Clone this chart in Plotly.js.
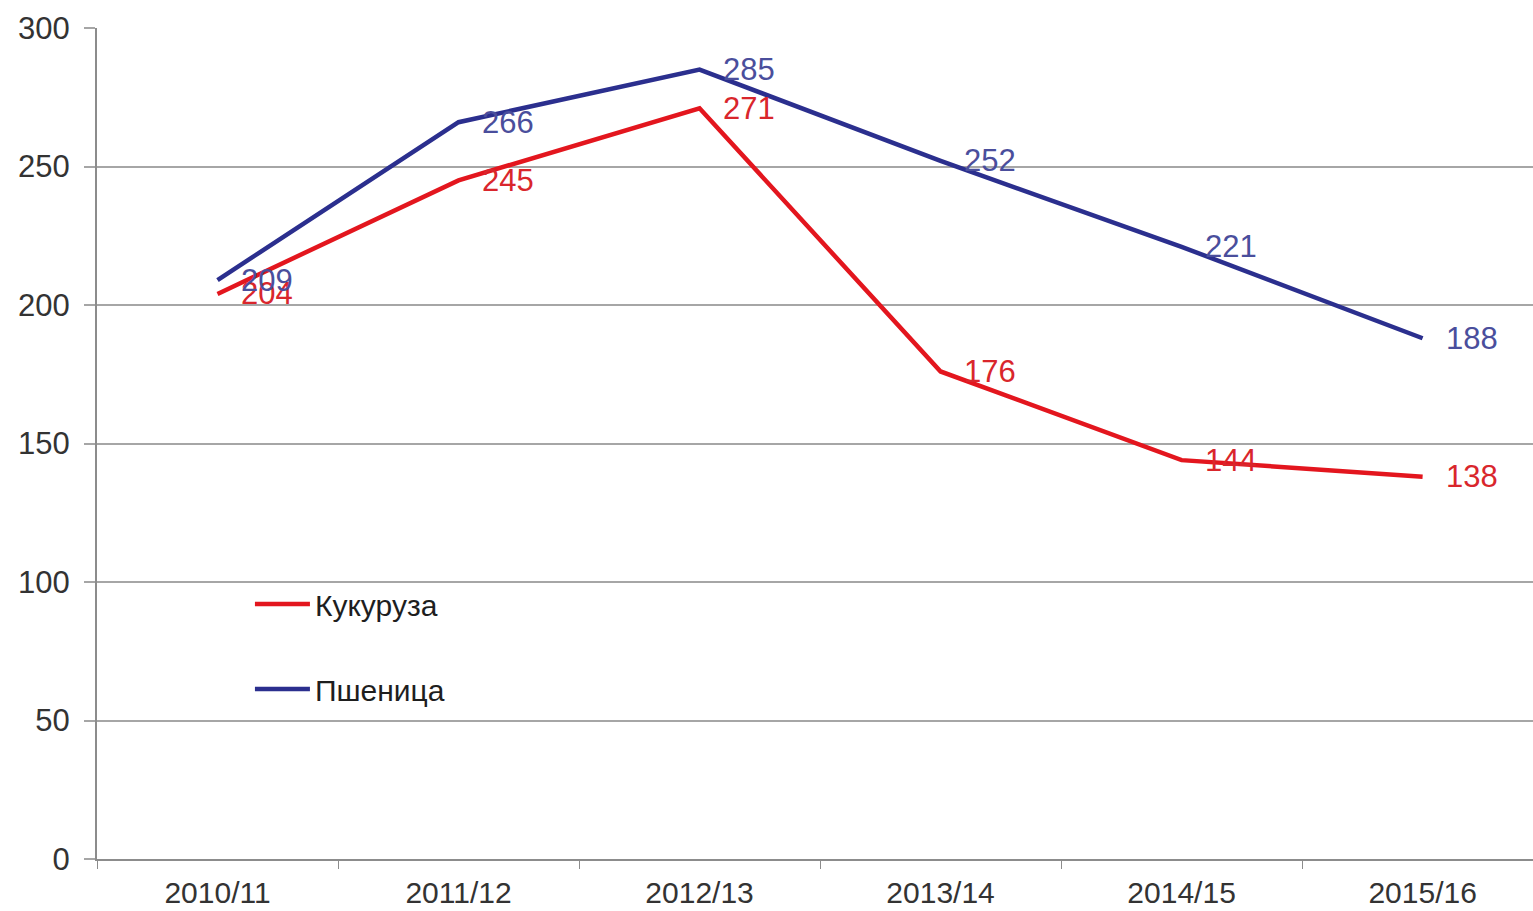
<!DOCTYPE html>
<html>
<head>
<meta charset="utf-8">
<script src="https://cdn.plot.ly/plotly-3.0.1.min.js"></script>
<style>
html,body{margin:0;padding:0;background:#fff;overflow:hidden;}
#chart{width:1533px;height:911px;}
</style>
</head>
<body>
<div id="chart"></div>
<script>
const categories = ["2010/11", "2011/12", "2012/13", "2013/14", "2014/15", "2015/16"];
const seriesNames = ["Кукуруза", "Пшеница"];
const corn = [204, 245, 271, 176, 144, 138];
const wheat = [209, 266, 285, 252, 221, 188];
const yTicks = [0, 50, 100, 150, 200, 250, 300];

const lineColors = ["#e3161e", "#2b2f8e"];
const labelColors = ["#d9262c", "#4a4e9c"];
const seriesValues = [corn, wheat];

const traces = seriesValues.map((vals, i) => ({
  type: "scatter",
  mode: "lines",
  x: categories,
  y: vals,
  name: seriesNames[i],
  legendgroup: "g" + i,
  line: {color: lineColors[i], width: 4.5},
  hoverinfo: "skip"
}));

const annotations = [];
seriesValues.forEach((vals, i) => {
  vals.forEach((v, j) => {
    annotations.push({
      x: categories[j], y: v, xref: "x", yref: "y",
      text: String(v), showarrow: false,
      xanchor: "left", yanchor: "middle", xshift: 21,
      font: {family: "Liberation Sans, Arial, sans-serif", size: 31, color: labelColors[i]}
    });
  });
});

const layout = {
  width: 1533, height: 911,
  margin: {l: 97, r: 0, t: 28, b: 52},
  paper_bgcolor: "#ffffff", plot_bgcolor: "#ffffff",
  font: {family: "Liberation Sans, Arial, sans-serif", size: 31, color: "#333333"},
  showlegend: true,
  legend: {
    x: 0.1065, y: 0.338, xanchor: "left", yanchor: "top",
    bgcolor: "rgba(0,0,0,0)", borderwidth: 0,
    tracegroupgap: 43,
    font: {size: 30, color: "#1e1e1e"},
    itemwidth: 55
  },
  xaxis: {
    type: "category",
    range: [-0.5, 5.458],
    showgrid: false,
    showline: true, linecolor: "#8c8c8c", linewidth: 2,
    ticks: "outside", tickson: "boundaries", ticklen: 8, tickcolor: "#8c8c8c", tickwidth: 1,
    ticklabelstandoff: 6,
    tickfont: {size: 30, color: "#333333"},
    zeroline: false, fixedrange: true
  },
  yaxis: {
    range: [0, 300],
    tickvals: yTicks,
    showgrid: true, gridcolor: "#a6a6a6", gridwidth: 2,
    showline: true, linecolor: "#8c8c8c", linewidth: 2,
    ticks: "outside", ticklen: 11, tickcolor: "#a6a6a6", tickwidth: 2,
    ticklabelstandoff: 8,
    tickfont: {size: 31, color: "#333333"},
    zeroline: false, fixedrange: true
  },
  annotations: annotations
};

Plotly.newPlot("chart", traces, layout, {displayModeBar: false, staticPlot: true});
</script>
</body>
</html>
